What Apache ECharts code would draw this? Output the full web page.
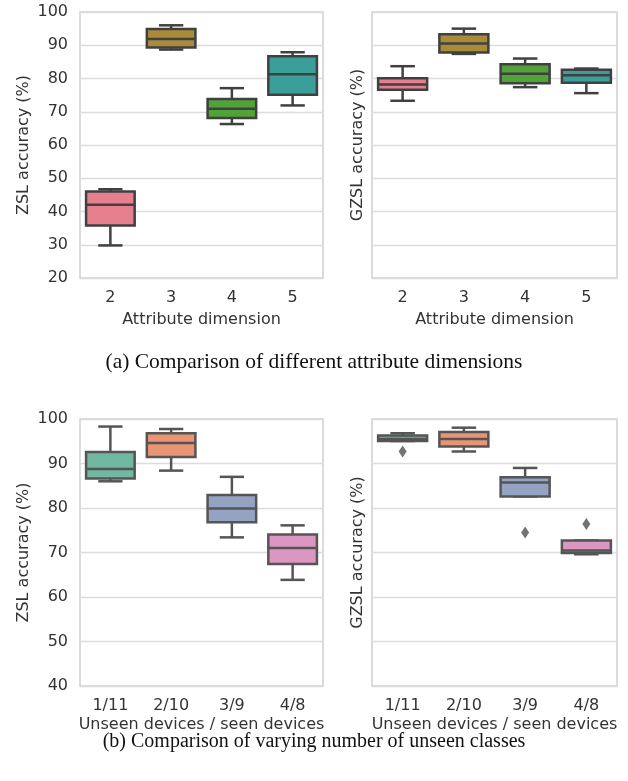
<!DOCTYPE html>
<html>
<head>
<meta charset="utf-8">
<script src="https://cdn.jsdelivr.net/npm/echarts@6/dist/echarts.min.js"></script>
<style>
html,body{margin:0;padding:0;background:#fff;}
#c{width:628px;height:781px;}
</style>
</head>
<body>
<div id="c"></div>
<script>
// ---- data ----
const attrCats = ['2', '3', '4', '5'];
// [min, Q1, median, Q3, max]
const zslAttr = [
  [29.8, 35.8, 42.0, 46.0, 46.7],
  [88.7, 89.3, 91.9, 94.9, 96.0],
  [66.3, 68.1, 70.9, 73.8, 77.1],
  [71.9, 75.1, 81.3, 86.7, 87.9]
];
const gzslAttr = [
  [73.3, 76.6, 78.2, 80.1, 83.7],
  [87.4, 87.8, 90.5, 93.3, 95.0],
  [77.4, 78.6, 81.4, 84.3, 86.0],
  [75.6, 78.7, 81.0, 82.6, 83.0]
];
const unseenCats = ['1/11', '2/10', '3/9', '4/8'];
const zslUnseen = [
  [86.0, 86.65, 88.75, 92.6, 98.3],
  [88.4, 91.45, 94.6, 96.8, 97.75],
  [73.4, 76.8, 79.9, 82.9, 87.0],
  [63.85, 67.4, 71.0, 74.05, 76.1]
];
const gzslUnseen = [
  [95.05, 95.05, 95.5, 96.3, 96.8],
  [92.7, 93.8, 95.5, 97.1, 98.05],
  [82.6, 82.6, 85.75, 86.9, 89.0],
  [69.6, 69.9, 70.45, 72.7, 72.7]
];
const gzslUnseenOutliers = [[0, 92.7], [2, 74.5], [3, 76.4]];
const attrTicks = [20, 100, 10];
const unseenTicks = [40, 100, 10];

// ---- styles ----
const attrColors = ['#e6808e', '#a98b3a', '#52a23a', '#3b9f99'];
const unseenColors = ['#71b7a1', '#e99575', '#95a3c3', '#db96c1'];
const TXT = '#333333';
const FONT = 'DejaVu Sans';
const FS = 16;

function boxRenderer(colors, stroke) {
  return function (params, api) {
    const x = api.value(0);
    const band = api.size([1, 0])[0];
    const bw = band * 0.4, cw = band * 0.2;
    const pMin = api.coord([x, api.value(1)]);
    const pQ1 = api.coord([x, api.value(2)]);
    const pMed = api.coord([x, api.value(3)]);
    const pQ3 = api.coord([x, api.value(4)]);
    const pMax = api.coord([x, api.value(5)]);
    const cx = pMin[0];
    const ls = { stroke: stroke, lineWidth: 2.5 };
    return {
      type: 'group',
      children: [
        { type: 'line', shape: { x1: cx, y1: pQ3[1], x2: cx, y2: pMax[1] }, style: ls },
        { type: 'line', shape: { x1: cx, y1: pQ1[1], x2: cx, y2: pMin[1] }, style: ls },
        { type: 'line', shape: { x1: cx - cw, y1: pMax[1], x2: cx + cw, y2: pMax[1] }, style: ls },
        { type: 'line', shape: { x1: cx - cw, y1: pMin[1], x2: cx + cw, y2: pMin[1] }, style: ls },
        { type: 'rect', shape: { x: cx - bw, y: pQ3[1], width: 2 * bw, height: pQ1[1] - pQ3[1] },
          style: { fill: colors[params.dataIndex], stroke: stroke, lineWidth: 2.5 } },
        { type: 'line', shape: { x1: cx - bw, y1: pMed[1], x2: cx + bw, y2: pMed[1] }, style: ls }
      ]
    };
  };
}

function toItems(arr) { return arr.map((d, i) => [i].concat(d)); }

const grids = [
  { left: 80, top: 12, width: 243, height: 266 },
  { left: 372, top: 12, width: 245, height: 266 },
  { left: 80, top: 419, width: 243, height: 267 },
  { left: 372, top: 419, width: 245, height: 267 }
].map(g => Object.assign(g, { show: true, borderColor: '#d0d0d0', borderWidth: 1.5, backgroundColor: '#fff' }));

function xAxis(idx, cats, name, gap) {
  return {
    type: 'category', gridIndex: idx, data: cats, boundaryGap: true,
    axisLine: { show: false }, axisTick: { show: false },
    axisLabel: { color: TXT, fontSize: FS, fontFamily: FONT, margin: 12 },
    name: name, nameLocation: 'middle', nameGap: gap,
    nameTextStyle: { color: TXT, fontSize: FS, fontFamily: FONT },
    splitLine: { show: false }
  };
}
function yAxis(idx, ticks, name, gap, showLabels) {
  return {
    type: 'value', gridIndex: idx, min: ticks[0], max: ticks[1], interval: ticks[2],
    axisLine: { show: false }, axisTick: { show: false },
    axisLabel: { show: showLabels, color: TXT, fontSize: FS, fontFamily: FONT, margin: 12 },
    splitLine: { show: true, lineStyle: { color: '#dcdcdc', width: 1.3 } },
    name: name, nameLocation: 'middle', nameGap: gap,
    nameTextStyle: { color: TXT, fontSize: FS, fontFamily: FONT }
  };
}

const option = {
  backgroundColor: '#fff',
  animation: false,
  title: [
    { text: '(a) Comparison of different attribute dimensions', left: 'center', top: 346,
      textStyle: { fontFamily: 'Liberation Serif', fontSize: 21.5, fontWeight: 'normal', color: '#111' } },
    { text: '(b) Comparison of varying number of unseen classes', left: 'center', top: 727,
      textStyle: { fontFamily: 'Liberation Serif', fontSize: 20, fontWeight: 'normal', color: '#111' } }
  ],
  grid: grids,
  xAxis: [
    xAxis(0, attrCats, 'Attribute dimension', 34),
    xAxis(1, attrCats, 'Attribute dimension', 34),
    xAxis(2, unseenCats, 'Unseen devices / seen devices', 31),
    xAxis(3, unseenCats, 'Unseen devices / seen devices', 31)
  ],
  yAxis: [
    yAxis(0, attrTicks, 'ZSL accuracy (%)', 48, true),
    yAxis(1, attrTicks, 'GZSL accuracy (%)', 6, false),
    yAxis(2, unseenTicks, 'ZSL accuracy (%)', 48, true),
    yAxis(3, unseenTicks, 'GZSL accuracy (%)', 6, false)
  ],
  series: [
    { type: 'custom', xAxisIndex: 0, yAxisIndex: 0, renderItem: boxRenderer(attrColors, '#404040'), data: toItems(zslAttr), encode: { x: 0, y: [1, 2, 3, 4, 5] } },
    { type: 'custom', xAxisIndex: 1, yAxisIndex: 1, renderItem: boxRenderer(attrColors, '#404040'), data: toItems(gzslAttr), encode: { x: 0, y: [1, 2, 3, 4, 5] } },
    { type: 'custom', xAxisIndex: 2, yAxisIndex: 2, renderItem: boxRenderer(unseenColors, '#555555'), data: toItems(zslUnseen), encode: { x: 0, y: [1, 2, 3, 4, 5] } },
    { type: 'custom', xAxisIndex: 3, yAxisIndex: 3, renderItem: boxRenderer(unseenColors, '#555555'), data: toItems(gzslUnseen), encode: { x: 0, y: [1, 2, 3, 4, 5] } },
    { type: 'scatter', xAxisIndex: 3, yAxisIndex: 3, data: gzslUnseenOutliers, symbol: 'diamond', symbolSize: [8, 12],
      itemStyle: { color: '#505050' } }
  ]
};

const chart = echarts.init(document.getElementById('c'), null, { renderer: 'canvas' });
chart.setOption(option);
</script>
</body>
</html>
